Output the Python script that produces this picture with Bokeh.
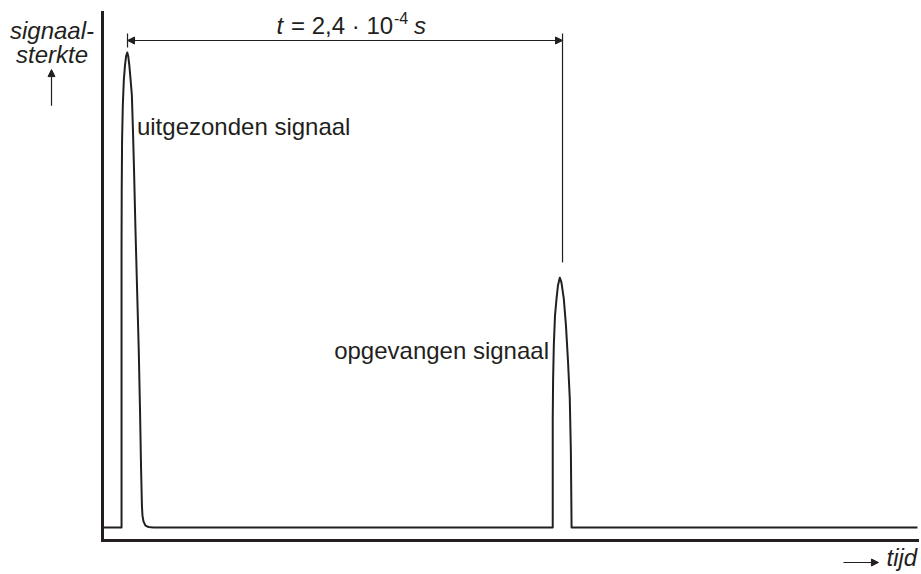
from bokeh.plotting import figure
from bokeh.models import Label, Arrow, NormalHead, Range1d, FixedTicker
from bokeh.embed import file_html
from bokeh.resources import INLINE

# time in units of 1e-4 s; signal strength in arbitrary units (sent peak = 1)
send_t = [0.105, 0.105, 0.106, 0.108, 0.112, 0.1175, 0.124, 0.130, 0.1365,
          0.142, 0.148, 0.1545, 0.162, 0.168, 0.174, 0.182, 0.191, 0.200,
          0.207, 0.213, 0.2175, 0.2205, 0.226, 0.237, 0.254, 0.281]
send_s = [0.0, 0.583, 0.710, 0.815, 0.888, 0.941, 0.973, 0.992, 1.0,
          0.992, 0.973, 0.945, 0.910, 0.836, 0.752, 0.625, 0.499, 0.373,
          0.246, 0.120, 0.046, 0.025, 0.013, 0.004, 0.001, 0.0]

recv_t = [2.484, 2.484, 2.486, 2.490, 2.4965, 2.505, 2.513, 2.523,
          2.532, 2.545, 2.557, 2.568, 2.578, 2.584, 2.588]
recv_s = [0.0, 0.225, 0.310, 0.383, 0.446, 0.482, 0.510, 0.526,
          0.516, 0.482, 0.425, 0.352, 0.272, 0.162, 0.0]

t_max = 4.4965          # end of time axis
s_axis = -0.02737       # level of the time axis
s_top = 1.0842          # top of the signal axis
interval_start = 0.138  # dimension mark at sent peak
interval = 2.4          # t = 2,4 . 10^-4 s

sig_t = [0.0] + send_t + recv_t + [t_max]
sig_s = [0.0] + send_s + recv_s + [0.0]

INK = "#231F20"
FONT = "Liberation Sans"

p = figure(width=921, height=574, output_backend="svg", toolbar_location=None,
           x_range=Range1d(-0.5628, 4.5186), y_range=Range1d(-0.09895, 1.10947),
           min_border=0)
p.outline_line_color = None
p.grid.visible = False
p.background_fill_color = "white"
for ax in (p.xaxis[0], p.yaxis[0]):
    ax.ticker = FixedTicker(ticks=[])
    ax.major_tick_line_color = None
    ax.minor_tick_line_color = None
    ax.major_label_text_font_size = "0px"
    ax.axis_line_width = 3
    ax.axis_line_color = INK
    ax.axis_line_cap = "square"
p.yaxis[0].fixed_location = 0
p.yaxis[0].bounds = (s_axis, s_top)
p.xaxis[0].fixed_location = s_axis
p.xaxis[0].bounds = (0, t_max)

p.line(sig_t, sig_s, line_color=INK, line_width=2, line_join="round")

t_end = interval_start + interval
# dimension marks
p.segment(x0=[interval_start, t_end], y0=[1.040, 1.040],
          x1=[interval_start, t_end], y1=[1.0105, 0.558],
          line_color=INK, line_width=1.2)
p.add_layout(Arrow(x_start=interval_start, y_start=1.0253, x_end=t_end, y_end=1.0253,
                   start=NormalHead(size=7, fill_color=INK, line_color=INK),
                   end=NormalHead(size=7, fill_color=INK, line_color=INK),
                   line_color=INK, line_width=1.2))

mid = interval_start + interval / 2
def lab(text, x, y, size="24px", style="normal", align="left", xo=0, yo=0):
    p.add_layout(Label(x=x, y=y, text=text, x_offset=xo, y_offset=yo + 7,
                       text_font=FONT, text_font_size=size, text_font_style=style,
                       text_align=align, text_baseline="alphabetic", text_color=INK))

lab("t", mid, 1.0421, style="italic", xo=-68.5)
lab("= 2,4 · 10", mid, 1.0421, xo=-54)
lab("-4", mid, 1.0421, size="16px", xo=49, yo=8)
lab("s", mid, 1.0421, style="italic", xo=69)

lab("uitgezonden signaal", 0.190, 0.829)
lab("opgevangen signaal", 2.4634, 0.358, align="right")

lab("signaal-", -0.2786, 1.0316, style="italic", align="center")
lab("sterkte", -0.2786, 0.981, style="italic", align="center")
p.add_layout(Arrow(x_start=-0.2814, y_start=0.888, x_end=-0.2814, y_end=0.964,
                   end=NormalHead(size=7, fill_color=INK, line_color=INK),
                   line_color=INK, line_width=1.2))

lab("tijd", 4.3255, -0.0779, style="italic")
p.add_layout(Arrow(x_start=4.088, y_start=-0.0737, x_end=4.281, y_end=-0.0737,
                   end=NormalHead(size=7, fill_color=INK, line_color=INK),
                   line_color=INK, line_width=1.2))

open("out.html", "w").write(file_html(p, INLINE))
